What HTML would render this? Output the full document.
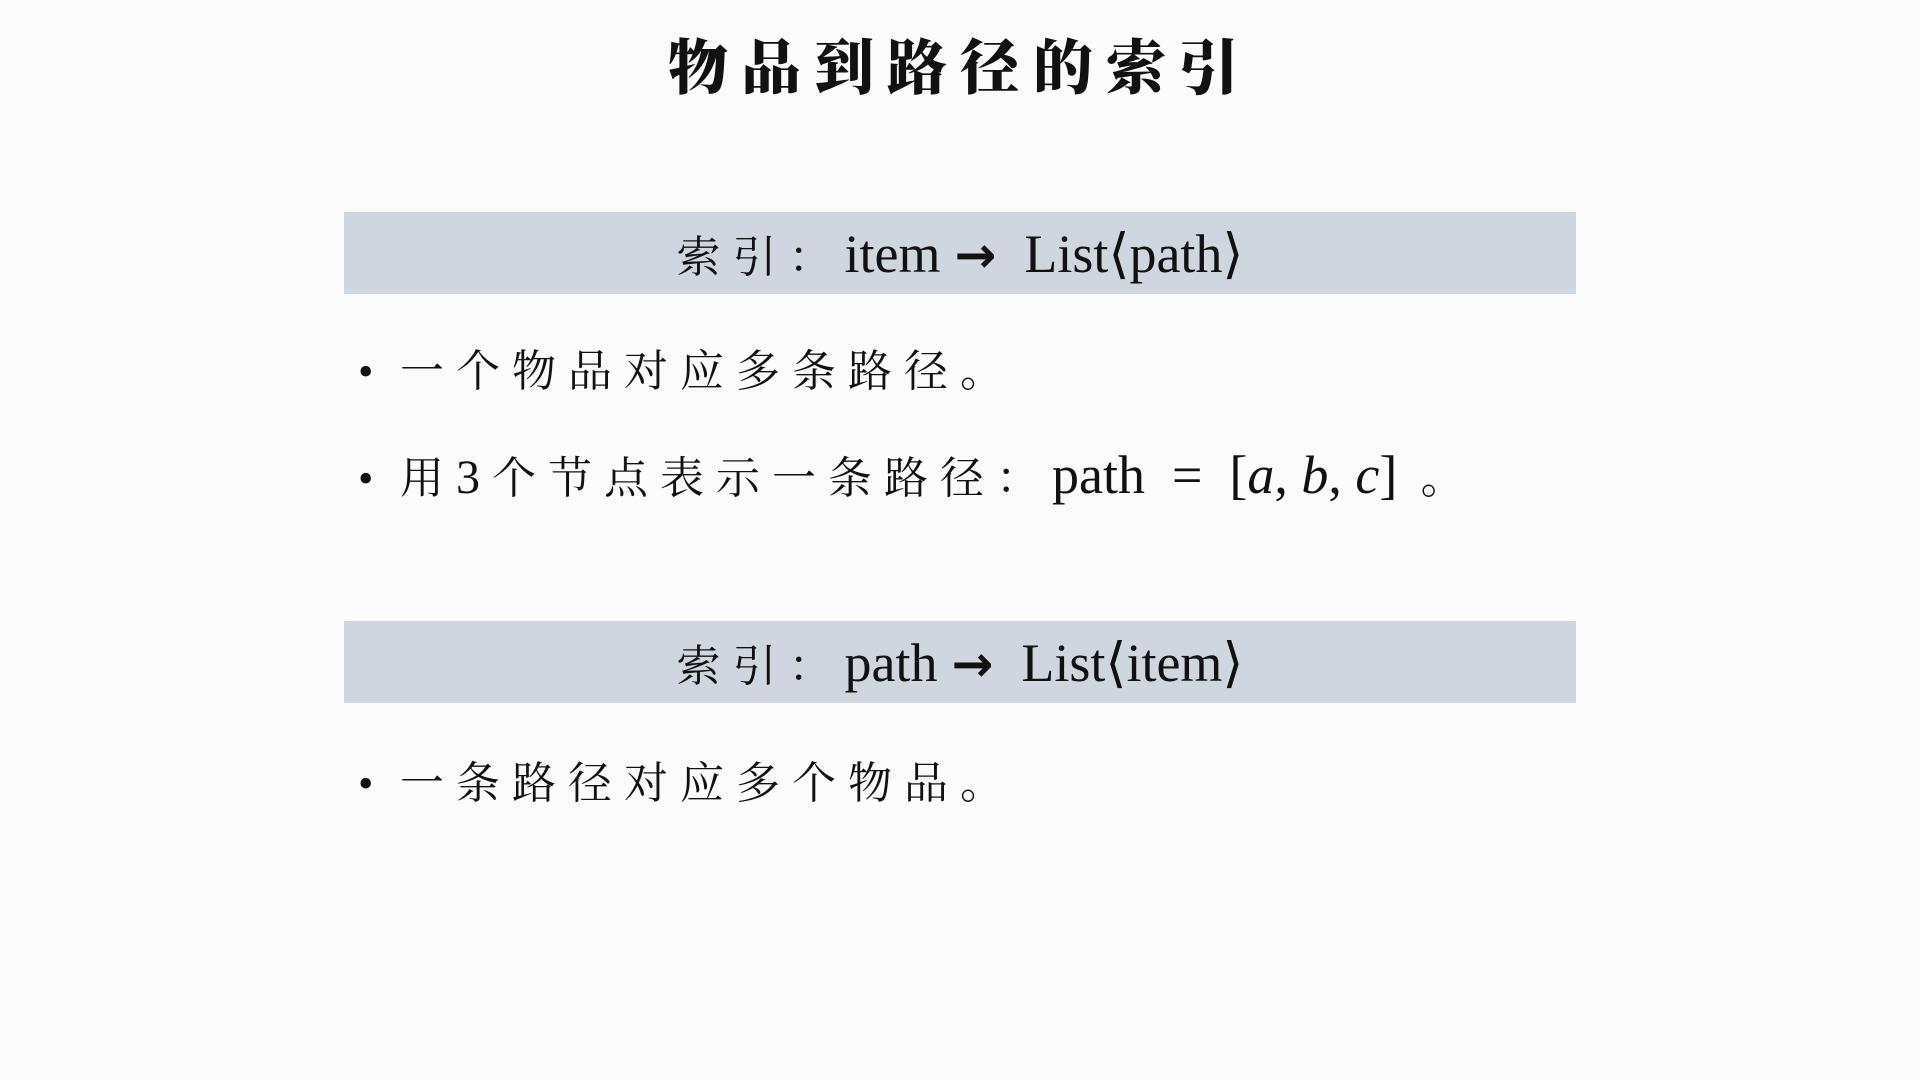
<!DOCTYPE html>
<html><head><meta charset="utf-8"><style>
body{margin:0;width:1920px;height:1080px;background:#fcfbfc;position:relative;overflow:hidden;font-family:"Liberation Serif","Noto Serif CJK SC",serif;color:#111}
.t{position:absolute;top:22px;left:0;width:1920px;text-align:center;font-family:"Noto Serif CJK SC",serif;font-weight:900;font-size:60px;letter-spacing:13px;line-height:84px}
.box{position:absolute;left:344px;width:1232px;height:82px;background:#d0d6e0;text-align:center;font-size:54px;line-height:82px}
.box .c{font-family:"Noto Serif CJK SC",serif;font-size:44px;letter-spacing:12px}
.box .a{font-family:"DejaVu Sans",sans-serif;font-weight:bold;font-size:50px;margin:0 28px 0 14px}
.b{position:absolute;left:358px;font-size:44px;line-height:60px;white-space:nowrap}
.b .z{font-family:"Noto Serif CJK SC",serif;letter-spacing:12px}
.b .d{display:inline-block;width:42px}
</style></head><body>
<div class="t">物品到路径的索引</div>
<div class="box" style="top:212px"><span class="c">索引：</span>item<span class="a">→</span>List⟨path⟩</div>
<div class="b" style="top:337px"><span class="d">•</span><span class="z">一个物品对应多条路径。</span></div>
<div class="b" style="top:444px"><span class="d">•</span><span class="z">用</span><span style="font-size:48px">3 </span><span class="z">个节点表示一条路径：</span><span style="font-size:54px">path&nbsp; =&nbsp; [<i>a</i>, <i>b</i>, <i>c</i>]</span><span class="z"> 。</span></div>
<div class="box" style="top:621px"><span class="c">索引：</span>path<span class="a">→</span>List⟨item⟩</div>
<div class="b" style="top:749px"><span class="d">•</span><span class="z">一条路径对应多个物品。</span></div>
</body></html>
